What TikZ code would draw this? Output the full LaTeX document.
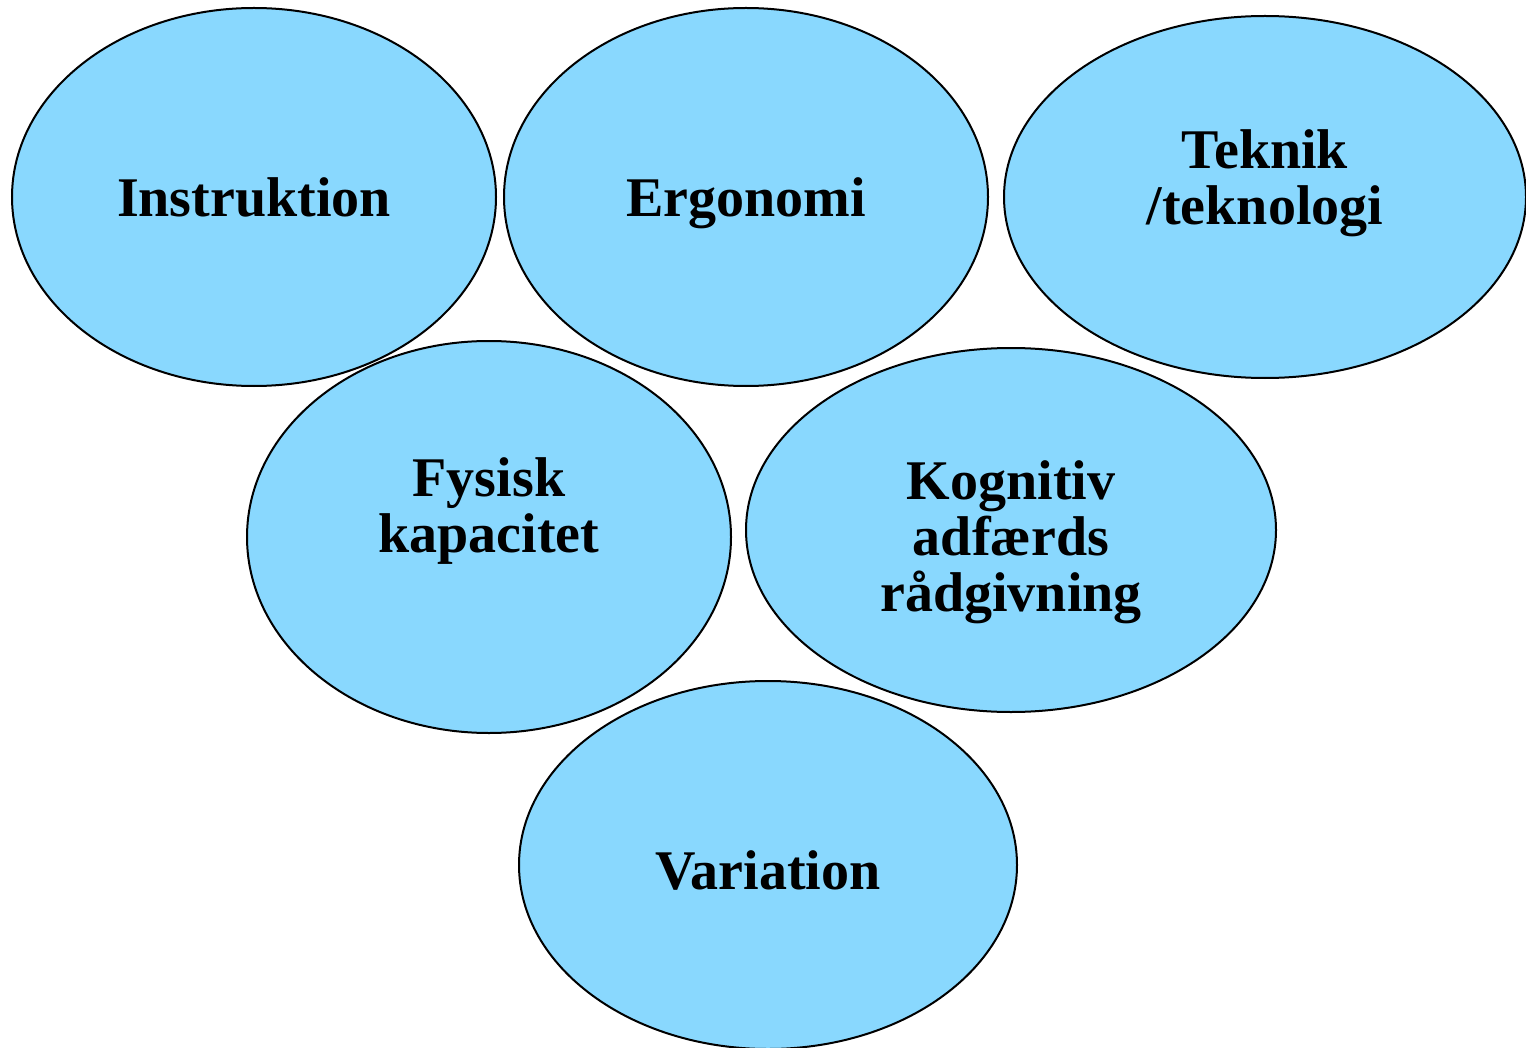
\documentclass[tikz,border=0pt]{standalone}
\usepackage{fontspec}
\setmainfont{Liberation Serif}
\usepackage{tikz}
\usetikzlibrary{shapes.geometric}
\usepackage{xcolor}
\definecolor{sky}{RGB}{137,216,254}

\begin{document}
\begin{tikzpicture}[x=0.5pt, y=-0.5pt,
  blob/.style={ellipse,draw=black,line width=1pt,fill=sky,inner sep=0pt},
  txt/.style={align=center,font=\fontsize{28}{28}\selectfont\bfseries}]
\useasboundingbox (0,0) rectangle (1526,1048);
% top row
\node[blob,minimum width=242pt,minimum height=189pt] (instr) at (254,197) {};
\node[blob,minimum width=242pt,minimum height=189pt] (ergo) at (746,197) {};
\node[blob,minimum width=261pt,minimum height=181pt] (tekn) at (1265,197) {};
% middle row
\node[blob,minimum width=242pt,minimum height=196pt] (fys) at (489,537) {};
\node[blob,minimum width=265pt,minimum height=182pt] (kogn) at (1011,530) {};
% bottom
\node[blob,minimum width=249pt,minimum height=184pt] (vari) at (768,865) {};
% labels
\node[txt] (instrT) at (instr.center) {Instruktion};
\node[txt] (ergoT) at ([yshift=-3pt]ergo.center) {Ergonomi};
\node[txt] (teknT) at ([yshift=7pt]tekn.center) {Teknik\\/teknologi};
\node[txt] (fysT) at ([yshift=13pt]fys.center) {Fysisk\\kapacitet};
\node[txt] (kognT) at ([yshift=-6pt]kogn.center) {Kognitiv\\adfærds\\rådgivning};
\node[txt] (variT) at ([yshift=-2.5pt]vari.center) {Variation};
\end{tikzpicture}
\end{document}
